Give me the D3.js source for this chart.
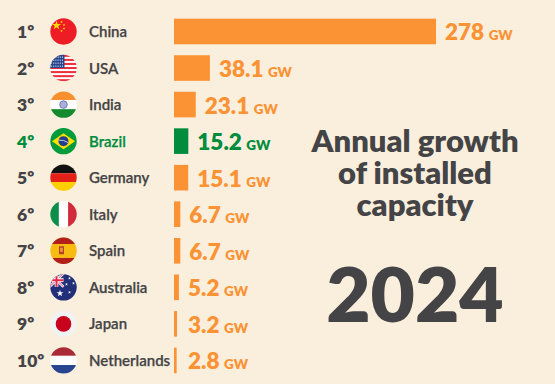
<!DOCTYPE html>
<html><head><meta charset="utf-8">
<script src="https://cdn.jsdelivr.net/npm/d3@7/dist/d3.min.js"></script>
<style>html,body{margin:0;padding:0;background:#faeedd}svg{display:block}text{font-family:Lato,sans-serif}</style>
</head><body><svg id="c" width="555" height="384"></svg>
<script>
const ranks=["1º","2º","3º","4º","5º","6º","7º","8º","9º","10º"];
const countries=["China","USA","India","Brazil","Germany","Italy","Spain","Australia","Japan","Netherlands"];
const values=[278,38.1,23.1,15.2,15.1,6.7,6.7,5.2,3.2,2.8];
const valueLabels=["278","38.1","23.1","15.2","15.1","6.7","6.7","5.2","3.2","2.8"];
const highlighted="Brazil";
const unit="GW";
const titleLines=["Annual growth","of installed","capacity"];
const yearLabel="2024";

const ORANGE="#fb9334",GREEN="#008c3d",DARK="#444446";
const svg=d3.select("#c");
const x=d3.scaleLinear().domain([0,278]).range([0,262]);
const y=d3.scaleBand().domain(countries).range([13.2,378.7]).paddingInner(0.3).paddingOuter(0.15);
const cy=c=>y(c)+y.bandwidth()/2;
const BAR_X=174,R=13.2,FX=63.5,LABEL_MIN_X=188;
const defs=svg.append("defs");

const flags={
 China(g){rect(g,-14,-14,28,28,"#ee1c25");star(g,-7,-6,4,"#ffde00");[[-2,-9.5],[0.5,-6.5],[0.5,-3],[-2,-0.5]].forEach(p=>star(g,p[0],p[1],1.2,"#ffde00"));},
 USA(g){rect(g,-14,-14,28,28,"#fff");d3.range(7).forEach(i=>rect(g,-14,-13.2+i*4.06,28,2.03,"#ee2f3c"));rect(g,-14,-14,15,14,"#27458f");
  d3.range(4).forEach(r=>d3.range(6).forEach(c=>g.append("circle").attr("cx",-12+c*2.2).attr("cy",-11+r*3).attr("r",.6).attr("fill","#fff")));},
 India(g){rect(g,-14,-14,28,10,"#f88f2e");rect(g,-14,-4.6,28,9.2,"#fff");rect(g,-14,4.6,28,10,"#138a2c");
  g.append("circle").attr("r",3.8).attr("fill","#a9afd6").attr("stroke","#5e6aa8").attr("stroke-width",.8);},
 Brazil(g){rect(g,-14,-14,28,28,"#009b3a");g.append("path").attr("d",d3.line()([[-11.5,0],[0,-8],[11.5,0],[0,8]])+"Z").attr("fill","#fedf00");
  g.append("circle").attr("r",5).attr("fill","#23408f");g.append("path").attr("d","M-4.8,-1Q0,-1.5 4.8,1.6").attr("stroke","#fff").attr("stroke-width",.7).attr("fill","none");},
 Germany(g){rect(g,-14,-14,28,9.6,"#111");rect(g,-14,-4.4,28,8.8,"#e32119");rect(g,-14,4.4,28,10,"#ffcf00");},
 Italy(g){rect(g,-14,-14,9.4,28,"#0c8f4a");rect(g,-4.6,-14,9.2,28,"#fff");rect(g,4.6,-14,10,28,"#d12b3c");},
 Spain(g){rect(g,-14,-14,28,28,"#f8bb12");rect(g,-14,-14,28,7.2,"#b01f1c");rect(g,-14,7.2,28,7,"#b01f1c");rect(g,-4.5,-4.5,5,8,"#b5402a");rect(g,-3.3,-3,2.6,4,"#e8a23a");},
 Australia(g){rect(g,-14,-14,28,28,"#22307a");rect(g,-14,-14,14,13.5,"#2a3a85");
  [["M-14,-14L0,-0.5","#fff",2.6],["M0,-14L-14,-0.5","#fff",2.6],["M-14,-14L0,-0.5","#e8284a",.9],["M0,-14L-14,-0.5","#e8284a",.9],["M-7,-14V-0.5M-14,-7.2H0","#fff",3.6],["M-7,-14V-0.5M-14,-7.2H0","#e8284a",2]]
   .forEach(d=>g.append("path").attr("d",d[0]).attr("stroke",d[1]).attr("stroke-width",d[2]).attr("fill","none"));
  star(g,-3.5,6,3,"#fff");[[6,-9],[10,-4],[3,-3],[6,5]].forEach(p=>star(g,p[0],p[1],1.3,"#fff"));},
 Japan(g){rect(g,-14,-14,28,28,"#f2f2f3");g.append("circle").attr("r",7.8).attr("fill","#c8001e");},
 Netherlands(g){rect(g,-14,-14,28,9.4,"#aa2b35");rect(g,-14,-4.6,28,9.2,"#fff");rect(g,-14,4.6,28,10,"#27468f");}
};
function rect(g,a,b,w,h,f){g.append("rect").attr("x",a).attr("y",b).attr("width",w).attr("height",h).attr("fill",f);}
function star(g,a,b,r,f){g.append("path").attr("transform",`translate(${a},${b})`).attr("d",d3.symbol(d3.symbolStar,r*r*1.6)()).attr("fill",f);}

defs.append("clipPath").attr("id","flagClip").append("circle").attr("r",R);

const row=svg.selectAll("g.row").data(countries).join("g").attr("class","row");
row.each(function(c,i){
  const g=d3.select(this),col=c===highlighted?GREEN:ORANGE,tc=c===highlighted?GREEN:DARK,m=cy(c);
  g.append("text").attr("x",17).attr("y",m+6.5).attr("font-size",17.5).attr("font-weight",800).attr("fill",tc).text(ranks[i]);
  flags[c](g.append("g").attr("transform",`translate(${FX},${m})`).attr("clip-path","url(#flagClip)"));
  g.append("text").attr("x",89).attr("y",m+5.5).attr("font-size",15).attr("font-weight",600).attr("stroke",tc).attr("stroke-width",.25).attr("fill",tc).text(c);
  g.append("rect").attr("x",BAR_X).attr("y",y(c)).attr("width",x(values[i])).attr("height",y.bandwidth()).attr("fill",col);
  const t=g.append("text").attr("x",Math.max(BAR_X+x(values[i])+9,LABEL_MIN_X)).attr("y",m+9).attr("font-weight",800).attr("fill",col);
  t.append("tspan").attr("font-size",22.5).text(valueLabels[i]);
  t.append("tspan").attr("font-size",13.5).attr("dx",4.5).text(unit);
});

const tg=svg.append("g").attr("text-anchor","middle").attr("fill",DARK).attr("font-weight",800);
titleLines.forEach((l,i)=>tg.append("text").attr("x",415).attr("y",152+i*32).attr("font-size",31).text(l));
tg.append("text").attr("x",415).attr("y",322).attr("font-size",76.5).text(yearLabel);
</script></body></html>
